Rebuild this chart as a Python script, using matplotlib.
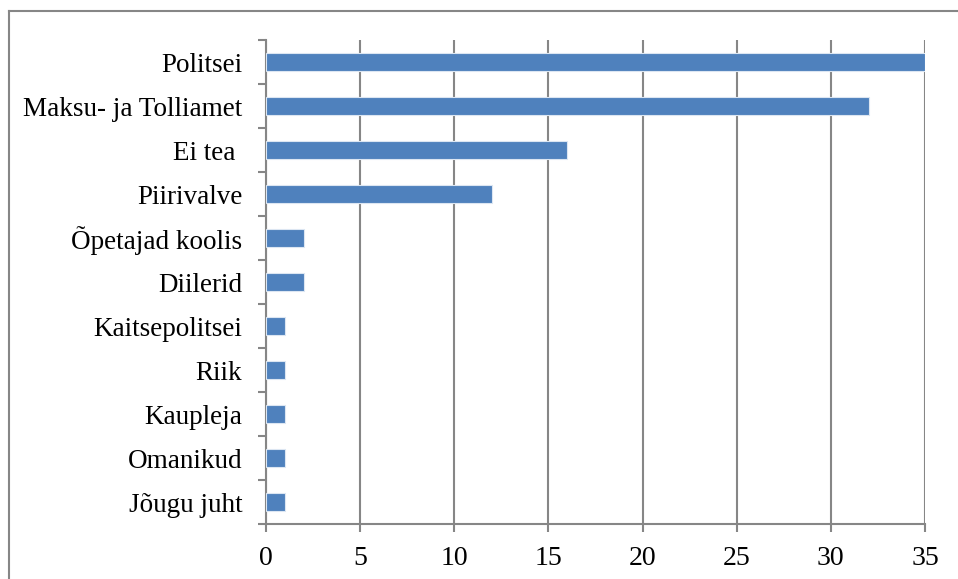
import matplotlib
matplotlib.use("Agg")
import matplotlib.pyplot as plt
from matplotlib.lines import Line2D
import numpy as np

categories = ["Politsei", "Maksu- ja Tolliamet", "Ei tea ", "Piirivalve",
              "Õpetajad koolis", "Diilerid", "Kaitsepolitsei", "Riik",
              "Kaupleja", "Omanikud", "Jõugu juht"]
values = [35, 32, 16, 12, 2, 2, 1, 1, 1, 1, 1]
xticks = [0, 5, 10, 15, 20, 25, 30, 35]

plt.rcParams['font.family'] = ['Liberation Serif', 'DejaVu Serif']

W, H = 958, 579
fig = plt.figure(figsize=(W / 100, H / 100), dpi=100)
ax = fig.add_axes([266 / W, 1 - 524 / H, (925 - 266) / W, (524 - 40) / H])

grey = "#868686"
bar_color = "#4F81BD"

y = np.arange(len(categories))[::-1]
ax.barh(y, values, height=0.41, color=bar_color, edgecolor="#dce6f2",
        linewidth=0.8, zorder=3)

ax.set_xlim(0, 35)
ax.set_ylim(-0.5, len(categories) - 0.5)
ax.set_xticks(xticks)
ax.set_xticklabels([str(t) for t in xticks])
ax.set_yticks(y)
ax.set_yticklabels(categories)
ax.set_yticks(np.arange(-0.5, len(categories), 1.0), minor=True)

ax.grid(axis='x', color=grey, linewidth=1.5, zorder=1)
ax.grid(axis='y', visible=False)
for s in ['top', 'right']:
    ax.spines[s].set_visible(False)
for s in ['left', 'bottom']:
    ax.spines[s].set_color(grey)
    ax.spines[s].set_linewidth(1.5)

ax.tick_params(axis='y', which='major', length=0, pad=17, labelsize=19.5)
ax.tick_params(axis='y', which='minor', length=5.5, width=1.5, color=grey)
ax.tick_params(axis='x', which='major', length=5.5, width=1.5, color=grey,
               pad=10, labelsize=20)

# outer frame (left and top lines)
fig.add_artist(Line2D([8.5 / W, 8.5 / W], [0, 1 - 11 / H], transform=fig.transFigure,
                      color=grey, linewidth=1.5))
fig.add_artist(Line2D([8.5 / W, 1], [1 - 11 / H, 1 - 11 / H], transform=fig.transFigure,
                      color=grey, linewidth=1.5))

fig.savefig("out.png", dpi=100)
